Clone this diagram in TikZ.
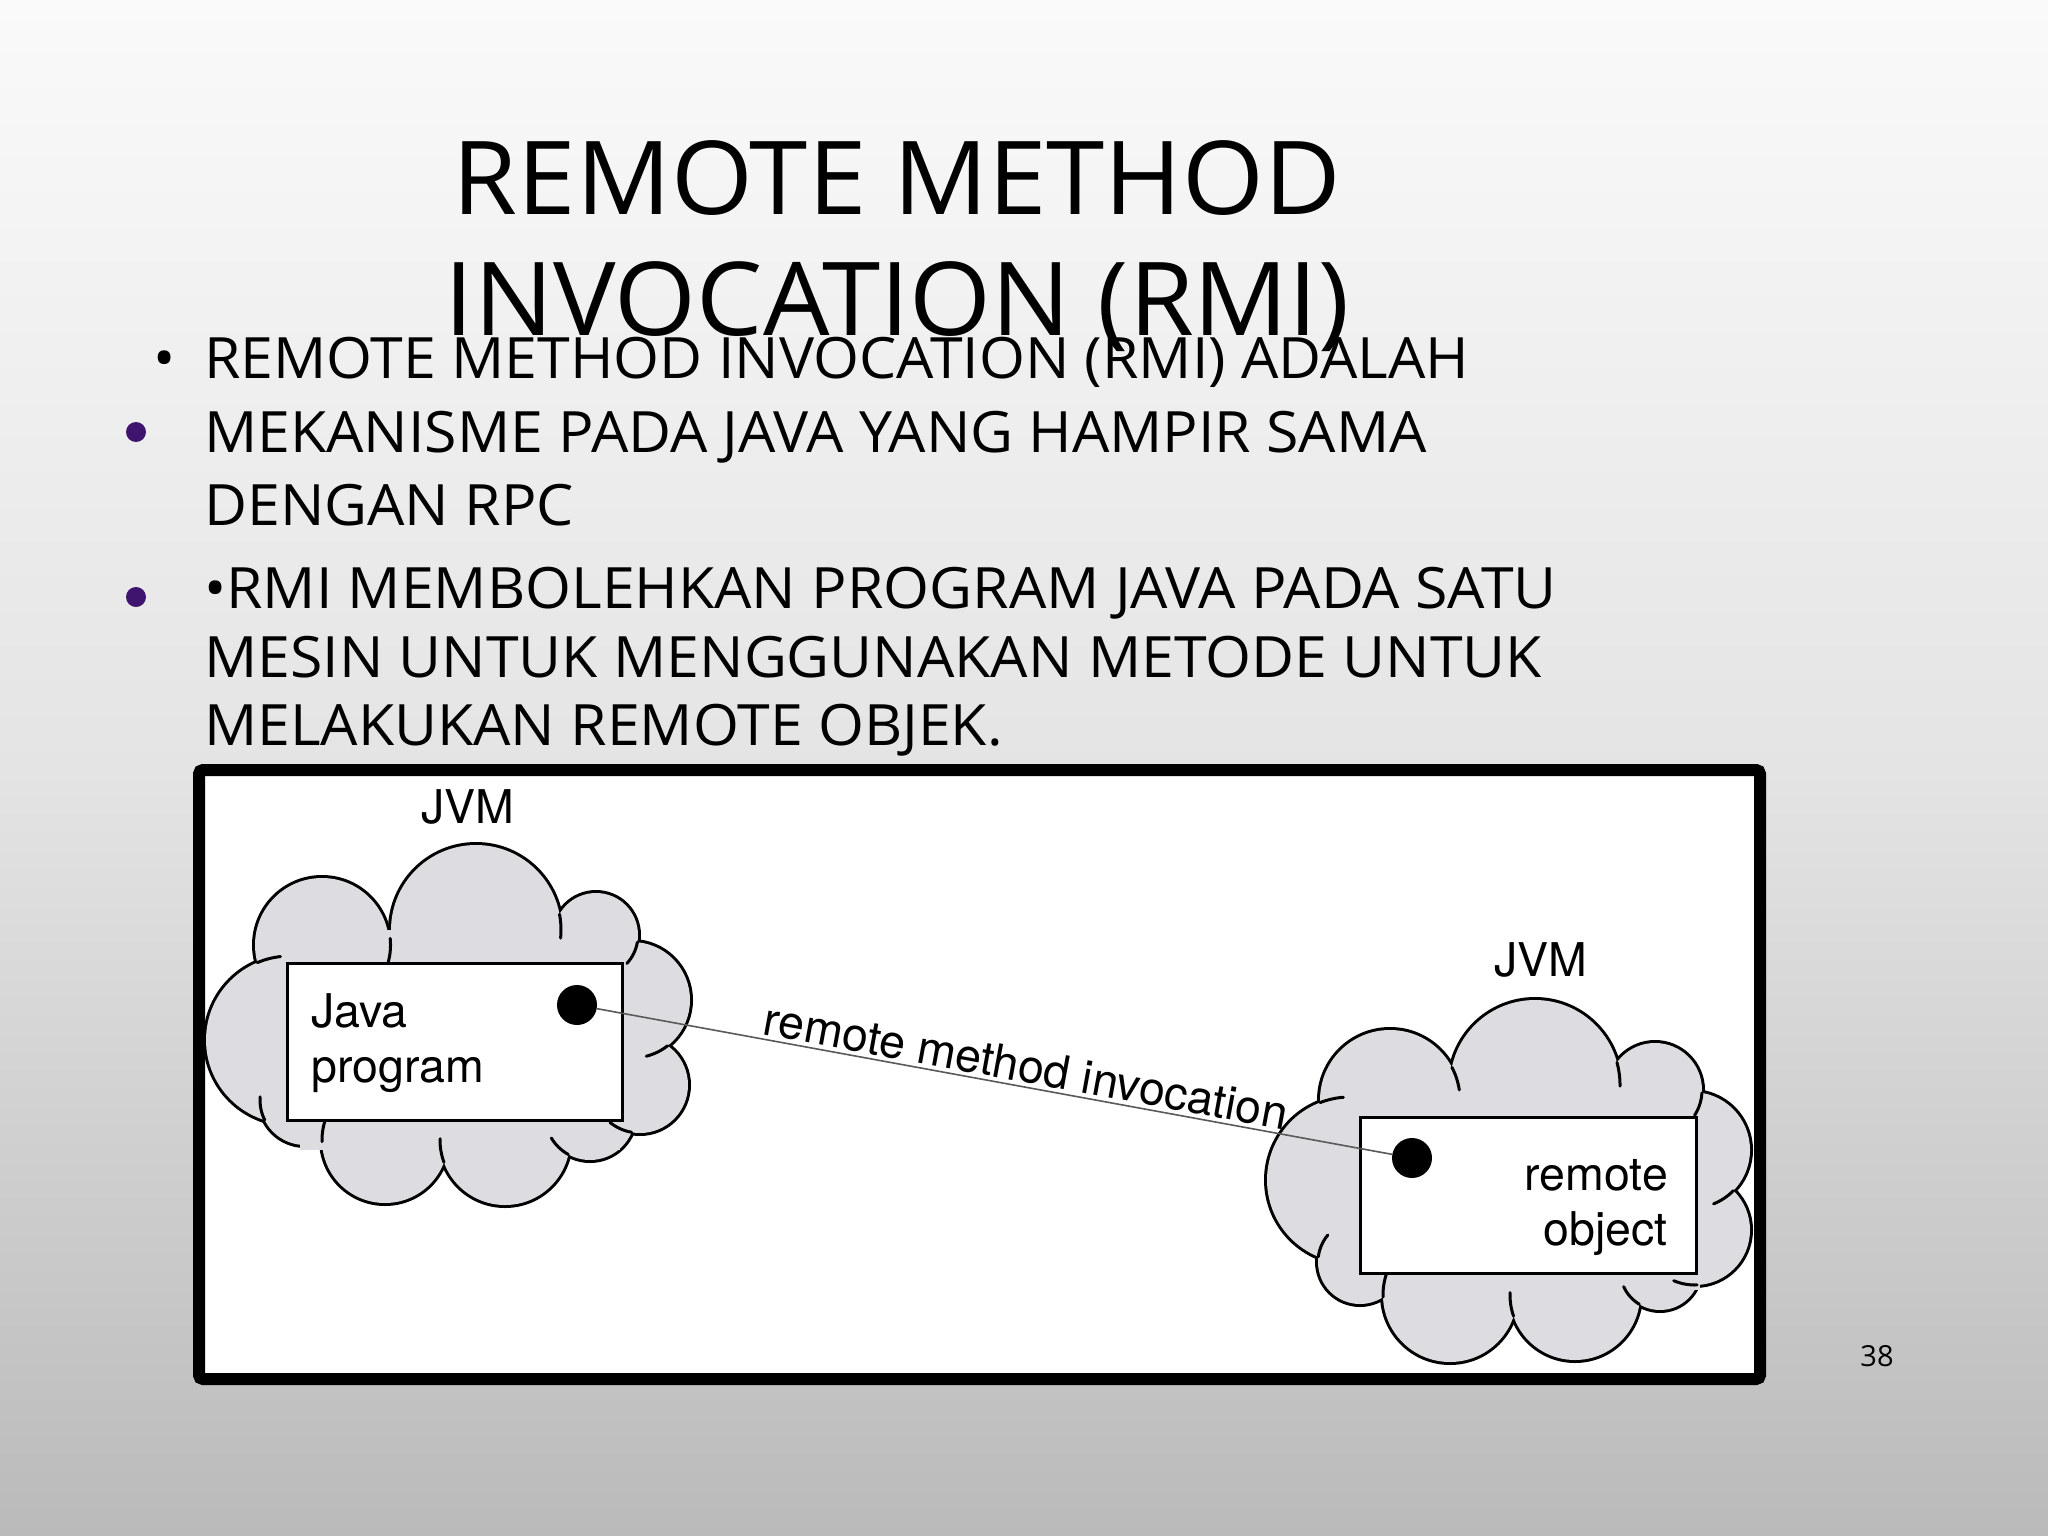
\documentclass[tikz,border=0pt]{standalone}
\usepackage{fontspec}
\setmainfont{Open Sans}
\newfontfamily\titlefont[FakeStretch=1.03]{Open Sans}
\newfontfamily\bodyfont[FakeStretch=1.035]{Open Sans}
\newfontfamily\helv{TeX Gyre Heros}
\definecolor{cloudgray}{RGB}{221,220,224}
\definecolor{bulletpurple}{RGB}{62,20,110}
\definecolor{bgtop}{RGB}{250,250,250}
\definecolor{bgmid}{RGB}{228,228,228}
\definecolor{bgbot}{RGB}{186,186,186}
\definecolor{linkgray}{RGB}{90,90,90}
% hook: continuation of lobe 0 past its notch with lobe 1
\newcommand\lobehook[9]{%
  \pgfmathsetmacro\hkdx{(#4-#1)/10}\pgfmathsetmacro\hkdy{(#5-#2)/10}%
  \pgfmathsetmacro\hkd{sqrt(\hkdx*\hkdx+\hkdy*\hkdy)}%
  \pgfmathsetmacro\hka{((#3/10)^2-(#6/10)^2+\hkd*\hkd)/(2*\hkd)}%
  \pgfmathsetmacro\hkh{sqrt(max((#3/10)^2-\hka*\hka,0))}%
  \pgfmathsetmacro\hkpx{#1/10+\hka*\hkdx/\hkd}\pgfmathsetmacro\hkpy{#2/10+\hka*\hkdy/\hkd}%
  \pgfmathsetmacro\hkxa{\hkpx-\hkh*\hkdy/\hkd}\pgfmathsetmacro\hkya{\hkpy+\hkh*\hkdx/\hkd}%
  \pgfmathsetmacro\hkxb{\hkpx+\hkh*\hkdy/\hkd}\pgfmathsetmacro\hkyb{\hkpy-\hkh*\hkdx/\hkd}%
  \pgfmathsetmacro\hksel{((\hkxa-#7/10)^2+(\hkya-#8/10)^2)>((\hkxb-#7/10)^2+(\hkyb-#8/10)^2) ? 1 : 0}%
  \ifdim\hksel pt>0.5pt
    \pgfmathsetmacro\hknx{\hkxa}\pgfmathsetmacro\hkny{\hkya}%
  \else
    \pgfmathsetmacro\hknx{\hkxb}\pgfmathsetmacro\hkny{\hkyb}%
  \fi
  \pgfmathsetmacro\hkang{atan2(\hkny-#2/10,\hknx-#1/10)}%
  \pgfmathsetmacro\hkdel{#9/#3*57.2958}%
  \draw[line width=3pt, line cap=round] ({\hknx*10},{\hkny*10}) arc[start angle=\hkang, delta angle=\hkdel, radius=#3];%
}
\begin{document}
\begin{tikzpicture}[x=1pt,y=-1pt,
  titletext/.style={font=\titlefont\fontsize{102}{110}\selectfont, inner sep=0pt, anchor=base},
  bodytext/.style={font=\bodyfont\fontsize{57}{64}\selectfont, inner sep=0pt, anchor=base west},
  diagtext/.style={font=\helv\fontsize{46.5}{50}\selectfont, inner sep=0pt},
  lobeline/.style={draw=black, line width=6pt},
  lobefill/.style={fill=cloudgray},
  progbox/.style={draw=black, line width=3pt, fill=white, inner sep=0pt},
  dotmark/.style={circle, fill=black, minimum size=40pt, inner sep=0pt},
  pbullet/.style={circle, fill=bulletpurple, minimum size=20pt, inner sep=0pt}]
\useasboundingbox (0,0) rectangle (2048,1536);
\fill[top color=bgtop, bottom color=bgbot, middle color=bgmid] (0,0) rectangle (2048,1536);

% title
\node[titletext] (t1) at (897,214) {REMOTE METHOD};
\node[titletext] (t2) at (897,335) {INVOCATION (RMI)};

% bullets
\node[bodytext, anchor=base] (b0) at (165,378) {•};
\node[bodytext] (l1) at (204,378) {REMOTE METHOD INVOCATION (RMI) ADALAH};
\node[pbullet] (pb1) at (136,432) {};
\node[bodytext] (l2) at (204,452) {MEKANISME PADA JAVA YANG HAMPIR SAMA};
\node[bodytext] (l3) at (204,525) {DENGAN RPC};
\node[pbullet] (pb2) at (136,597) {};
\node[bodytext] (l4) at (204,608) {•RMI MEMBOLEHKAN PROGRAM JAVA PADA SATU};
\node[bodytext] (l5) at (204,677) {MESIN UNTUK MENGGUNAKAN METODE UNTUK};
\node[bodytext] (l6) at (204,745) {MELAKUKAN REMOTE OBJEK.};

% frame
\node[draw=black, line width=12pt, rounded corners=4pt, fill=white, inner sep=0pt, outer sep=0pt,
      minimum width=1561pt, minimum height=609pt, anchor=north west] (frame) at (199,770) {};

% cloud 1
\def\cloudA{476/930/85,596/935/42,632/1000/58,640/1085/48,590/1115/45,505/1140/65,385/1140/63,305/1100/45,290/1040/84,322/945/67}
\foreach \cx/\cy/\r in \cloudA \draw[lobeline] (\cx,\cy) circle (\r);
\foreach \cx/\cy/\r in \cloudA \fill[lobefill] (\cx,\cy) circle (\r);
\fill[lobefill] (300,930) rectangle (620,1150);
\foreach \ax/\ay/\ar/\bx/\by/\br in {476/930/85/596/935/42, 596/935/42/632/1000/58, 632/1000/58/640/1085/48,
   640/1085/48/590/1115/45, 590/1115/45/505/1140/65, 505/1140/65/385/1140/63, 385/1140/63/305/1100/45,
   305/1100/45/290/1040/84, 290/1040/84/322/945/67, 322/945/67/476/930/85}
  {\lobehook{\ax}{\ay}{\ar}{\bx}{\by}{\br}{460}{1030}{24}}

% cloud 2
\def\cloudB{1535/1085/85,1655/1090/47,1692/1150/58,1695/1230/55,1660/1270/40,1575/1295/65,1450/1295/67,1360/1262/42,1350/1180/83,1390/1100/70}
\foreach \cx/\cy/\r in \cloudB \draw[lobeline] (\cx,\cy) circle (\r);
\foreach \cx/\cy/\r in \cloudB \fill[lobefill] (\cx,\cy) circle (\r);
\fill[lobefill] (1380,1090) rectangle (1700,1290);
\foreach \ax/\ay/\ar/\bx/\by/\br in {1535/1085/85/1655/1090/47, 1655/1090/47/1692/1150/58, 1692/1150/58/1695/1230/55,
   1695/1230/55/1660/1270/40, 1660/1270/40/1575/1295/65, 1575/1295/65/1450/1295/67, 1450/1295/67/1360/1262/42,
   1360/1262/42/1350/1180/83, 1350/1180/83/1390/1100/70, 1390/1100/70/1535/1085/85}
  {\lobehook{\ax}{\ay}{\ar}{\bx}{\by}{\br}{1515}{1185}{24}}

% JVM labels
\node[diagtext, anchor=base] (jvm1) at (468,823) {JVM};
\node[diagtext, anchor=base] (jvm2) at (1541,976) {JVM};

% boxes
\node[progbox, minimum width=335pt, minimum height=157pt] (box1) at (454.5,1041.5) {};
\node[progbox, minimum width=336pt, minimum height=156pt] (box2) at (1528,1195) {};
\node[diagtext, anchor=base west] (java) at (311,1027) {Java};
\node[diagtext, anchor=base west] (prog) at (311,1082) {program};
\node[diagtext, anchor=base east] (rem) at (1668,1190) {remote};
\node[diagtext, anchor=base east] (obj) at (1668,1245) {object};

% dots and link
\node[dotmark] (d1) at (577,1005) {};
\node[dotmark] (d2) at (1412,1158) {};
\draw[linkgray, line width=1.6pt] (d1) -- node[diagtext, text=black, sloped, pos=0.535, anchor=south, outer sep=4pt] (rmi) {remote method invocation} (d2);

% page number
\node[font=\fontsize{29}{32}\selectfont, inner sep=0pt, anchor=base] (pg) at (1877,1366) {38};
\end{tikzpicture}
\end{document}
